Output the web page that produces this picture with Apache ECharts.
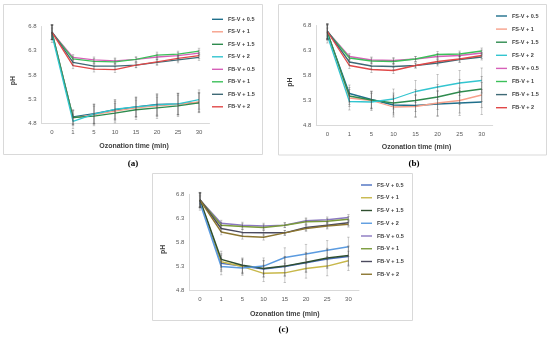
<!DOCTYPE html>
<html><head><meta charset="utf-8">
<script src="https://cdn.jsdelivr.net/npm/echarts@6/dist/echarts.min.js"></script>
<style>html,body{margin:0;padding:0;background:#fff}#c{width:550px;height:339px}</style>
</head><body><div id="c"></div>
<script>
// ---------- data ----------
const categories = ['0', '1', '5', '10', '15', '20', '25', '30'];
const seriesNames = ['FS-V + 0.5', 'FS-V + 1', 'FS-V + 1.5', 'FS-V + 2', 'FB-V + 0.5', 'FB-V + 1', 'FB-V + 1.5', 'FB-V + 2'];
const yMin = 4.8, yMax = 6.8, yStep = 0.5;

// panel (a)
const aFS05 = [6.68, 4.93, 5.00, 5.08, 5.14, 5.19, 5.20, 5.23];
const aFS1  = [6.68, 4.91, 4.98, 5.05, 5.12, 5.16, 5.19, 5.24];
const aFS15 = [6.68, 4.92, 4.95, 5.01, 5.08, 5.12, 5.16, 5.22];
const aFS2  = [6.62, 4.84, 4.99, 5.09, 5.14, 5.18, 5.20, 5.29];
const aFB05 = [6.68, 6.16, 6.11, 6.09, 6.12, 6.17, 6.20, 6.25];
const aFB1  = [6.68, 6.13, 6.08, 6.07, 6.12, 6.21, 6.23, 6.29];
const aFB15 = [6.69, 6.06, 5.98, 5.98, 6.00, 6.06, 6.11, 6.16];
const aFB2  = [6.68, 5.99, 5.92, 5.91, 6.00, 6.07, 6.14, 6.20];
const aErrFS = [0.15, 0.15, 0.20, 0.20, 0.20, 0.22, 0.22, 0.20];
const aErrFB = [0.15, 0.06, 0.06, 0.06, 0.05, 0.06, 0.06, 0.06];

// panel (b)
const bFS05 = [6.66, 5.44, 5.32, 5.21, 5.20, 5.23, 5.25, 5.27];
const bFS1  = [6.66, 5.35, 5.30, 5.17, 5.18, 5.25, 5.30, 5.41];
const bFS15 = [6.67, 5.39, 5.31, 5.25, 5.30, 5.37, 5.47, 5.53];
const bFS2  = [6.60, 5.28, 5.27, 5.33, 5.48, 5.57, 5.65, 5.70];
const bFB05 = [6.68, 6.18, 6.11, 6.10, 6.13, 6.18, 6.20, 6.25];
const bFB1  = [6.68, 6.15, 6.09, 6.08, 6.13, 6.22, 6.23, 6.29];
const bFB15 = [6.69, 6.07, 5.99, 5.98, 6.00, 6.05, 6.12, 6.17];
const bFB2  = [6.68, 6.00, 5.92, 5.90, 6.00, 6.08, 6.13, 6.20];
const bErrFS = [0.15, 0.17, 0.17, 0.20, 0.22, 0.25, 0.25, 0.25];
const bErrFB = [0.15, 0.06, 0.06, 0.06, 0.05, 0.06, 0.06, 0.06];

// panel (c)
const cFS05 = [6.66, 5.37, 5.31, 5.25, 5.30, 5.38, 5.46, 5.51];
const cFS1  = [6.68, 5.40, 5.30, 5.16, 5.17, 5.26, 5.31, 5.42];
const cFS15 = [6.68, 5.45, 5.33, 5.26, 5.31, 5.39, 5.48, 5.53];
const cFS2  = [6.62, 5.30, 5.27, 5.31, 5.49, 5.56, 5.64, 5.71];
const cFB05 = [6.68, 6.20, 6.16, 6.14, 6.16, 6.25, 6.27, 6.32];
const cFB1  = [6.68, 6.16, 6.13, 6.11, 6.16, 6.23, 6.24, 6.28];
const cFB15 = [6.69, 6.09, 6.01, 6.00, 6.00, 6.11, 6.16, 6.21];
const cFB2  = [6.68, 6.02, 5.93, 5.91, 6.00, 6.09, 6.14, 6.18];
const cErrFS = [0.15, 0.17, 0.15, 0.17, 0.20, 0.20, 0.20, 0.20];
const cErrFB = [0.15, 0.06, 0.06, 0.06, 0.05, 0.06, 0.06, 0.06];

// ---------- styles ----------
const colorsAB = ['#1f6f8b', '#f7a08a', '#2e8b4e', '#33c5d0', '#d660b8', '#3cc05a', '#3f6a76', '#e04848'];
const colorsC  = ['#4a6fc0', '#c8b84a', '#2f4f2f', '#5b9be0', '#8a78c0', '#7a9a3a', '#4b4a5e', '#8b7530'];

const panels = [
  { label: '(a)', series: [aFS05, aFS1, aFS15, aFS2, aFB05, aFB1, aFB15, aFB2], errFS: aErrFS, errFB: aErrFB, colors: colorsAB, lw: 1.3,
    box: [3.5, 4.5, 259, 150], grid: { left: 41.5, top: 26.5, width: 168, height: 96.8 },
    legend: { left: 212, top: 15.3, gap: 4.5 }, title: [134, 146], ph: [13.5, 80.5], lab: [133, 164] },
  { label: '(b)', series: [bFS05, bFS1, bFS15, bFS2, bFB05, bFB1, bFB15, bFB2], errFS: bErrFS, errFB: bErrFB, colors: colorsAB, lw: 1.3,
    box: [278.5, 4.5, 268, 150.5], grid: { left: 316.3, top: 25.5, width: 176.4, height: 100 },
    legend: { left: 496, top: 12, gap: 5.1 }, title: [416.5, 147.3], ph: [290, 82], lab: [414, 164] },
  { label: '(c)', series: [cFS05, cFS1, cFS15, cFS2, cFB05, cFB1, cFB15, cFB2], errFS: cErrFS, errFB: cErrFB, colors: colorsC, lw: 1.5,
    box: [152.5, 173.5, 260, 147], grid: { left: 189.4, top: 194.3, width: 169.6, height: 96.4 },
    legend: { left: 361, top: 181, gap: 4.75 }, title: [284.7, 313.7], ph: [163.3, 249.3], lab: [283.5, 330] }
];

const FONT = '"Liberation Sans", Arial, sans-serif';
const grids = [], xAxes = [], yAxes = [], series = [], legends = [], graphics = [];

panels.forEach((p, i) => {
  grids.push(Object.assign({ containLabel: false }, p.grid));
  xAxes.push({
    gridIndex: i, type: 'category', data: categories, boundaryGap: true,
    axisLine: { lineStyle: { color: '#d9d9d9', width: 1 } }, axisTick: { show: false },
    axisLabel: { fontSize: 6, color: '#595959', margin: 6, fontFamily: FONT }
  });
  yAxes.push({
    gridIndex: i, type: 'value', min: yMin, max: yMax, interval: yStep,
    axisLine: { show: true, lineStyle: { color: '#d9d9d9', width: 1 } }, axisTick: { show: false },
    splitLine: { show: false },
    axisLabel: { fontSize: 6, color: '#595959', margin: 5, fontFamily: FONT, formatter: v => v.toFixed(1) }
  });
  p.series.forEach((vals, k) => {
    series.push({
      type: 'line', name: seriesNames[k], xAxisIndex: i, yAxisIndex: i, data: vals,
      symbol: 'none', lineStyle: { width: p.lw, color: p.colors[k] }, itemStyle: { color: p.colors[k] },
      z: 2, animation: false
    });
  });
  // error bars
  const errData = [];
  p.series.forEach((vals, k) => {
    const err = k < 4 ? p.errFS : p.errFB;
    vals.forEach((v, j) => errData.push([j, v, err[j]]));
  });
  series.push({
    type: 'custom', xAxisIndex: i, yAxisIndex: i, silent: true, z: 3, animation: false, clip: false,
    encode: { x: 0, y: 1 },
    renderItem: (params, api) => {
      const x = api.value(0), y = api.value(1), e = api.value(2);
      const t = api.coord([x, y + e]), b = api.coord([x, y - e]);
      const w = 1.2, st = { stroke: 'rgba(70,70,70,0.55)', lineWidth: 0.5 };
      return { type: 'group', children: [
        { type: 'line', shape: { x1: t[0], y1: t[1], x2: b[0], y2: b[1] }, style: st },
        { type: 'line', shape: { x1: t[0] - w, y1: t[1], x2: t[0] + w, y2: t[1] }, style: st },
        { type: 'line', shape: { x1: b[0] - w, y1: b[1], x2: b[0] + w, y2: b[1] }, style: st }
      ] };
    },
    data: errData
  });
  legends.push({
    orient: 'vertical', left: p.legend.left, top: p.legend.top, padding: 0, itemGap: p.legend.gap,
    icon: 'rect', itemWidth: 11, itemHeight: 1.4, selectedMode: false,
    textStyle: { fontSize: 5.5, fontWeight: 'bold', color: '#404040', fontFamily: FONT, lineHeight: 8 },
    data: seriesNames.map((n, k) => ({ name: n, itemStyle: { color: p.colors[k] } }))
  });
  graphics.push({ type: 'rect', shape: { x: p.box[0], y: p.box[1], width: p.box[2], height: p.box[3] },
    style: { fill: 'none', stroke: '#d9d9d9', lineWidth: 1 }, silent: true, z: -10 });
  graphics.push({ type: 'text', x: p.title[0], y: p.title[1],
    style: { text: 'Ozonation time (min)', font: 'bold 7px ' + FONT, fill: '#404040', align: 'center', verticalAlign: 'middle' } });
  graphics.push({ type: 'text', x: p.ph[0], y: p.ph[1], rotation: Math.PI / 2,
    style: { text: 'pH', font: 'bold 7px ' + FONT, fill: '#404040', align: 'center', verticalAlign: 'middle' } });
  graphics.push({ type: 'text', x: p.lab[0], y: p.lab[1],
    style: { text: p.label, font: 'bold 9px "Liberation Serif", "Times New Roman", serif', fill: '#000', align: 'center', verticalAlign: 'middle' } });
});

const chart = echarts.init(document.getElementById('c'), null, { renderer: 'canvas' });
chart.setOption({
  backgroundColor: '#fff', animation: false,
  grid: grids, xAxis: xAxes, yAxis: yAxes, series: series, legend: legends, graphic: graphics
});
</script></body></html>
